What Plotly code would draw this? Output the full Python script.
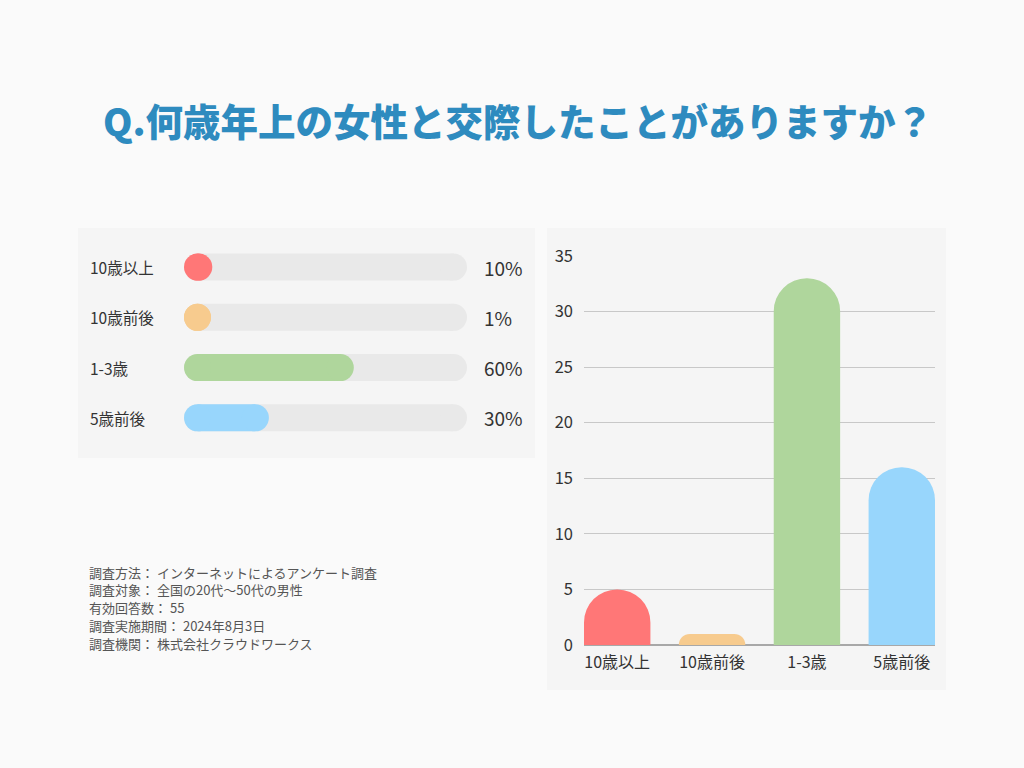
import plotly.graph_objects as go

# ---- data ----
categories = ["10歳以上", "10歳前後", "1-3歳", "5歳前後"]
counts = [5, 1, 33, 16]
percents = [10, 1, 60, 30]
percent_labels = ["10%", "1%", "60%", "30%"]
colors = ["#FF7777", "#F7CB8E", "#AFD69C", "#98D6FC"]
y_ticks = [0, 5, 10, 15, 20, 25, 30, 35]
title_text = "Q.何歳年上の女性と交際したことがありますか？"
notes = [
    "調査方法： インターネットによるアンケート調査",
    "調査対象： 全国の20代〜50代の男性",
    "有効回答数： 55",
    "調査実施期間： 2024年8月3日",
    "調査機関： 株式会社クラウドワークス",
]

W, H = 1024, 768
FONT = "Noto Sans CJK JP, Noto Sans, sans-serif"
BG = "#FAFAFA"
PANEL = "#F5F5F5"
TRACK = "#E9E9E9"
TXT = "#333333"


def px_x(p):
    return p / W


def px_y(p):
    return 1 - p / H


fig = go.Figure()

# ---- bar chart (right panel) ----
fig.add_trace(go.Bar(
    x=categories, y=counts, marker=dict(color=colors, line=dict(width=0)),
    width=0.7, xaxis="x", yaxis="y", showlegend=False, hoverinfo="x+y",
))

# ---- progress bars (left panel) ----
track_px = 467 - 184
bar_px = 27
d = bar_px / track_px * 100  # capsule diameter in data units
for cat, pct, col in zip(categories, percents, colors):
    fig.add_trace(go.Scatter(
        x=[d / 2, 100 - d / 2], y=[cat, cat], mode="lines+markers",
        line=dict(color=TRACK, width=bar_px),
        marker=dict(color=TRACK, size=bar_px, line=dict(width=0)),
        xaxis="x2", yaxis="y2", showlegend=False, hoverinfo="skip",
    ))
    L = max(pct, d)
    fig.add_trace(go.Scatter(
        x=[d / 2, L - d / 2], y=[cat, cat], mode="lines+markers",
        line=dict(color=col, width=bar_px),
        marker=dict(color=col, size=bar_px, line=dict(width=0)),
        xaxis="x2", yaxis="y2", showlegend=False,
        hovertemplate=f"{cat}: {pct}%<extra></extra>",
    ))

annotations = []
for cat, lab in zip(categories, percent_labels):
    annotations.append(dict(
        x=px_x(88), xref="paper", y=cat, yref="y2", text=cat, showarrow=False,
        xanchor="left", yanchor="middle", font=dict(family=FONT, size=15.5, color=TXT),
    ))
    annotations.append(dict(
        x=px_x(482), xref="paper", y=cat, yref="y2", text=lab, showarrow=False,
        xanchor="left", yanchor="middle", font=dict(family=FONT, size=19, color=TXT),
    ))

for i, line in enumerate(notes):
    annotations.append(dict(
        x=px_x(88), xref="paper", y=px_y(572 + i * 17.8), yref="paper", text=line,
        showarrow=False, xanchor="left", yanchor="middle", borderpad=0,
        font=dict(family=FONT, size=13, color="#555555"),
    ))

shapes = [
    dict(type="rect", xref="paper", yref="paper", x0=px_x(78), x1=px_x(535),
         y0=px_y(458), y1=px_y(228), fillcolor=PANEL, line=dict(width=0), layer="below"),
    dict(type="rect", xref="paper", yref="paper", x0=px_x(547), x1=px_x(946),
         y0=px_y(690), y1=px_y(228), fillcolor=PANEL, line=dict(width=0), layer="below"),
]

fig.update_layout(
    width=W, height=H, autosize=False,
    margin=dict(l=0, r=0, t=0, b=0, pad=0, autoexpand=False),
    paper_bgcolor=BG, plot_bgcolor="rgba(0,0,0,0)",
    font=dict(family=FONT, color=TXT),
    barcornerradius="50%",
    title=dict(
        text=title_text, x=px_x(518), xanchor="center", y=px_y(123), yanchor="middle",
        font=dict(family=FONT, size=37.5, color="#2E8BBF", weight=900),
    ),
    xaxis=dict(
        domain=[px_x(584), px_x(935)], range=[-0.35, 3.35], type="category",
        showgrid=False, zeroline=False, showline=False, ticks="",
        ticklabelstandoff=6, automargin=False,
        tickfont=dict(family=FONT, size=16, color=TXT), fixedrange=True,
    ),
    yaxis=dict(
        domain=[px_y(645), px_y(256)], range=[0, 35], tickvals=y_ticks,
        showgrid=True, gridcolor="#C8C8C8", gridwidth=1,
        zeroline=True, zerolinecolor="#A8A8A8", zerolinewidth=1.5,
        showline=False, ticks="", ticklabelstandoff=10, automargin=False,
        tickfont=dict(family=FONT, size=16.5, color=TXT), fixedrange=True,
    ),
    xaxis2=dict(
        domain=[px_x(184), px_x(467)], range=[0, 100], visible=False,
        fixedrange=True, automargin=False,
    ),
    yaxis2=dict(
        domain=[px_y(443), px_y(242)], range=[3.5, -0.5], type="category",
        categoryorder="array", categoryarray=categories, automargin=False,
        visible=False, fixedrange=True, anchor="x2",
    ),
    annotations=annotations,
    shapes=shapes,
)

fig.write_html(
    "out.html",
    config={"displayModeBar": False},
    post_script="document.body.style.margin='0';document.body.style.background='#FAFAFA';",
)
